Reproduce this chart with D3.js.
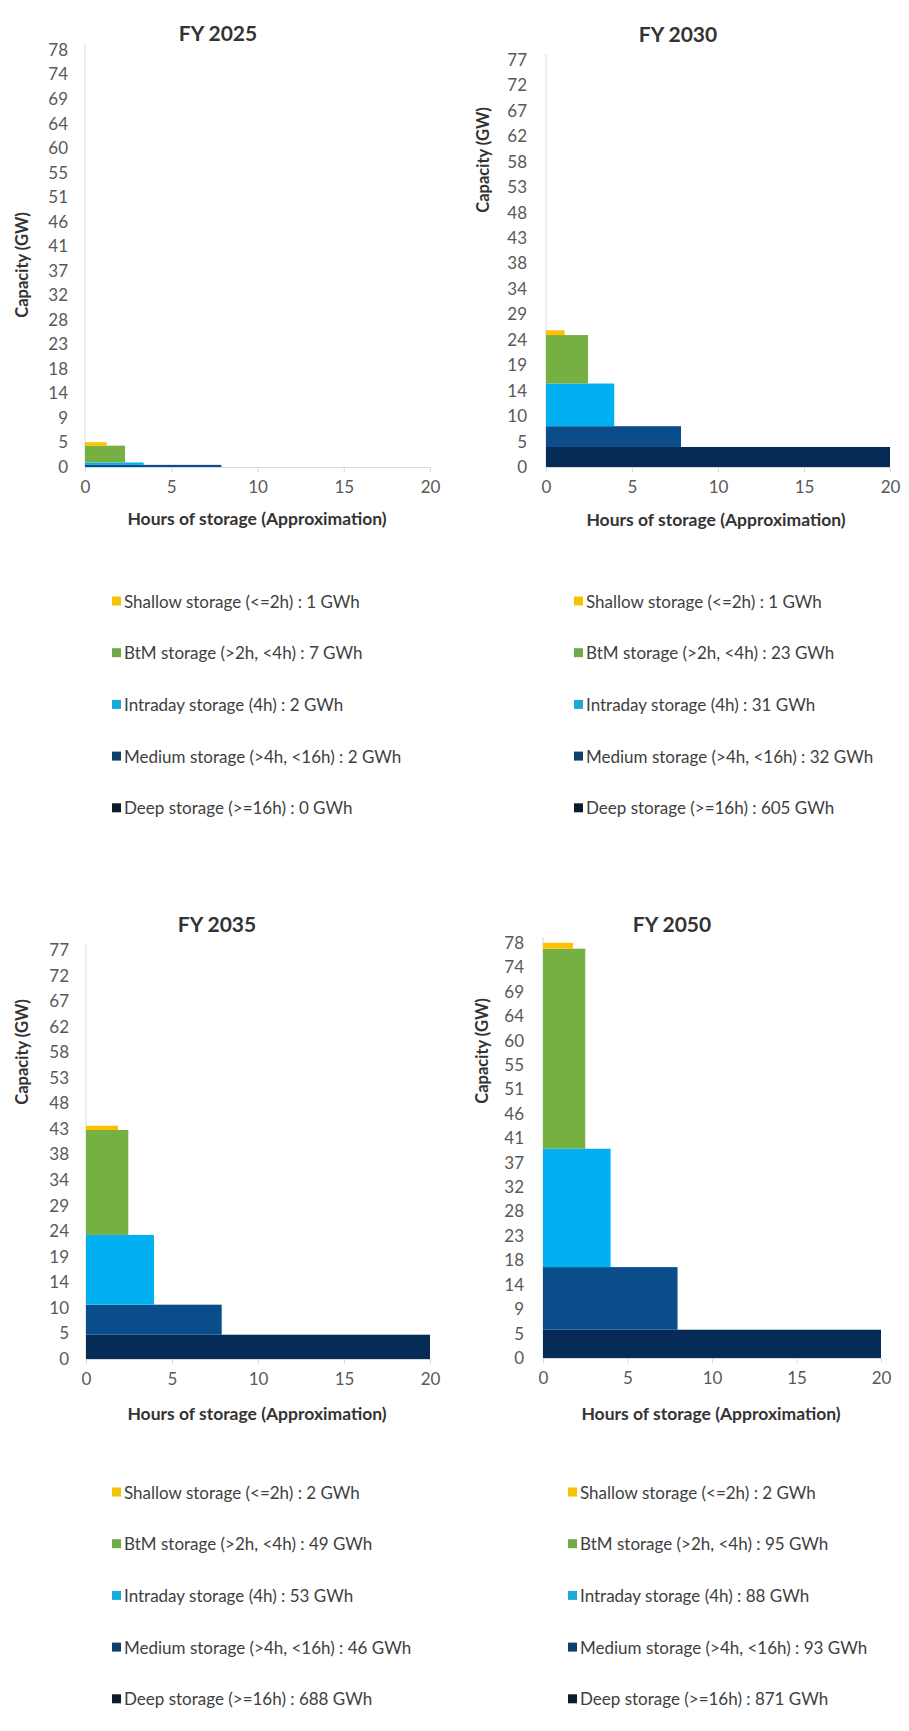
<!DOCTYPE html>
<html>
<head>
<meta charset="utf-8">
<script src="https://cdn.jsdelivr.net/npm/d3@7/dist/d3.min.js"></script>
<style>
  html, body { margin: 0; padding: 0; background: #ffffff; }
  svg { display: block; }
</style>
</head>
<body>
<svg id="chart" width="909" height="1731"></svg>
<script>
// ---------------- DATA ----------------
const years = ["FY 2025", "FY 2030", "FY 2035", "FY 2050"];
const categories = [
  "Shallow storage (<=2h)",
  "BtM storage (>2h, <4h)",
  "Intraday storage (4h)",
  "Medium storage (>4h, <16h)",
  "Deep storage (>=16h)"
];
const colors = ["#FFC000", "#76B043", "#00B0F0", "#0B4C8A", "#072B57"];
const legendColors = ["#F2C300", "#6FA94A", "#1AA9D8", "#0F3F6E", "#0E1B2E"];

// energy per category (GWh), legend values
const energy2025 = [1, 7, 2, 2, 0];
const energy2030 = [1, 23, 31, 32, 605];
const energy2035 = [2, 49, 53, 46, 688];
const energy2050 = [2, 95, 88, 93, 871];

// capacity band of each category (GW), stacked deep at the bottom
const capacity2025 = [0.65, 3.15, 0.45, 0.4, 0];
const capacity2030 = [0.9, 9.15, 8.05, 3.92, 3.78];
const capacity2035 = [0.8, 19.7, 13.1, 5.64, 4.56];
const capacity2050 = [1.1, 37.7, 22.3, 11.8, 5.33];

// hours of storage shown for each category (clipped at 20 h)
const hours2025 = [1.26, 2.32, 3.4, 7.9, 20];
const hours2030 = [1.08, 2.44, 3.97, 7.85, 20];
const hours2035 = [1.86, 2.46, 3.95, 7.89, 20];
const hours2050 = [1.78, 2.5, 4.0, 7.96, 20];

// y tick labels and their step (GW)
const yTicks2025 = ["0","5","9","14","18","23","28","32","37","41","46","51","55","60","64","69","74","78"];
const yTicks2030 = ["0","5","10","14","19","24","29","34","38","43","48","53","58","62","67","72","77"];
const yTicks2035 = ["0","5","10","14","19","24","29","34","38","43","48","53","58","62","67","72","77"];
const yTicks2050 = ["0","5","9","14","18","23","28","32","37","41","46","51","55","60","64","69","74","78"];
const yStep = [4.6, 4.8, 4.8, 4.6];

const xTicks = [0, 5, 10, 15, 20];
const xDomain = [0, 20];

const xTitle = "Hours of storage (Approximation)";
const yTitle = "Capacity (GW)";

// ---------------- LAYOUT ----------------
const layout = [
  { left: 85,  right: 430, top: 50,  bottom: 467,  titleX: 218, titleY: 32,  yTitleX: 22,  yTitleY: 265,  xTitleX: 257, xTitleY: 518,  legX: 112, legY: 601 },
  { left: 546, right: 890, top: 60,  bottom: 467,  titleX: 678, titleY: 33,  yTitleX: 483, yTitleY: 160,  xTitleX: 716, xTitleY: 519,  legX: 574, legY: 601 },
  { left: 86,  right: 430, top: 950, bottom: 1359, titleX: 217, titleY: 923, yTitleX: 22,  yTitleY: 1052, xTitleX: 257, xTitleY: 1413, legX: 112, legY: 1492 },
  { left: 543, right: 881, top: 943, bottom: 1358, titleX: 672, titleY: 923, yTitleX: 482, yTitleY: 1051, xTitleX: 711, xTitleY: 1413, legX: 568, legY: 1492 }
];

const panels = [
  { year: years[0], energy: energy2025, cap: capacity2025, hours: hours2025, yTicks: yTicks2025, step: yStep[0] },
  { year: years[1], energy: energy2030, cap: capacity2030, hours: hours2030, yTicks: yTicks2030, step: yStep[1] },
  { year: years[2], energy: energy2035, cap: capacity2035, hours: hours2035, yTicks: yTicks2035, step: yStep[2] },
  { year: years[3], energy: energy2050, cap: capacity2050, hours: hours2050, yTicks: yTicks2050, step: yStep[3] }
];

const FONT = "Lato, 'Open Sans', sans-serif";
const svg = d3.select("#chart");
svg.append("rect").attr("width", 909).attr("height", 1731).attr("fill", "#ffffff");

panels.forEach((p, pi) => {
  const L = layout[pi];
  const g = svg.append("g");
  const yMax = p.step * (p.yTicks.length - 1);
  const x = d3.scaleLinear().domain(xDomain).range([L.left, L.right]).clamp(true);
  const y = d3.scaleLinear().domain([0, yMax]).range([L.bottom, L.top]);

  // stack: deep at bottom, shallow on top
  const order = [4, 3, 2, 1, 0];
  let base = 0;
  const bands = [];
  order.forEach(i => {
    bands.push({ i, y0: base, y1: base + p.cap[i], h: p.hours[i] });
    base += p.cap[i];
  });

  // y axis line
  g.append("line")
    .attr("x1", x(0)).attr("x2", x(0))
    .attr("y1", y(yMax) - 6).attr("y2", y(0))
    .attr("stroke", "#d9d9d9").attr("stroke-width", 1);

  g.selectAll("rect.band").data(bands.filter(b => b.y1 > b.y0)).enter()
    .append("rect").attr("class", "band")
    .attr("x", x(0))
    .attr("width", b => x(b.h) - x(0))
    .attr("y", b => y(b.y1))
    .attr("height", b => y(b.y0) - y(b.y1))
    .attr("fill", b => colors[b.i]);

  // x axis
  const xAxis = d3.axisBottom(x).tickValues(xTicks).tickSize(5).tickPadding(9).tickFormat(d3.format("d"));
  const xa = g.append("g").attr("transform", `translate(0,${L.bottom})`).call(xAxis);
  xa.select(".domain").attr("stroke", "#d9d9d9");
  xa.selectAll(".tick line").attr("stroke", "#d9d9d9");
  xa.selectAll("text").attr("font-family", FONT).attr("font-size", 17).attr("fill", "#595959");

  // y axis (labels only)
  const yAxis = d3.axisLeft(y)
    .tickValues(p.yTicks.map((t, k) => k * p.step))
    .tickFormat((d, k) => p.yTicks[k])
    .tickSize(0).tickPadding(pi % 2 === 0 ? 17 : 19);
  const ya = g.append("g").attr("transform", `translate(${L.left},0)`).call(yAxis);
  ya.select(".domain").remove();
  ya.selectAll("text").attr("font-family", FONT).attr("font-size", 17).attr("fill", "#595959");

  // title
  g.append("text")
    .attr("x", L.titleX).attr("y", L.titleY)
    .attr("text-anchor", "middle").attr("dominant-baseline", "central")
    .attr("font-family", FONT).attr("font-weight", "bold").attr("font-size", 21)
    .attr("fill", "#333333").text(p.year);

  // axis titles
  g.append("text")
    .attr("x", L.xTitleX).attr("y", L.xTitleY)
    .attr("text-anchor", "middle").attr("dominant-baseline", "central")
    .attr("font-family", FONT).attr("font-weight", "bold").attr("font-size", 17.5)
    .attr("fill", "#333333").text(xTitle);

  g.append("text")
    .attr("transform", `translate(${L.yTitleX},${L.yTitleY}) rotate(-90)`)
    .attr("text-anchor", "middle").attr("dominant-baseline", "central")
    .attr("font-family", FONT).attr("font-weight", "bold").attr("font-size", 16.5)
    .attr("fill", "#333333").text(yTitle);

  // legend
  const leg = g.append("g");
  categories.forEach((c, i) => {
    const cy = L.legY + i * 51.7;
    leg.append("rect")
      .attr("x", L.legX).attr("y", cy - 4.5).attr("width", 9).attr("height", 9)
      .attr("fill", legendColors[i]);
    leg.append("text")
      .attr("x", L.legX + 12).attr("y", cy)
      .attr("dominant-baseline", "central")
      .attr("font-family", FONT).attr("font-size", 17).attr("fill", "#404040")
      .text(`${c} : ${p.energy[i]} GWh`);
  });
});
</script>
</body>
</html>
